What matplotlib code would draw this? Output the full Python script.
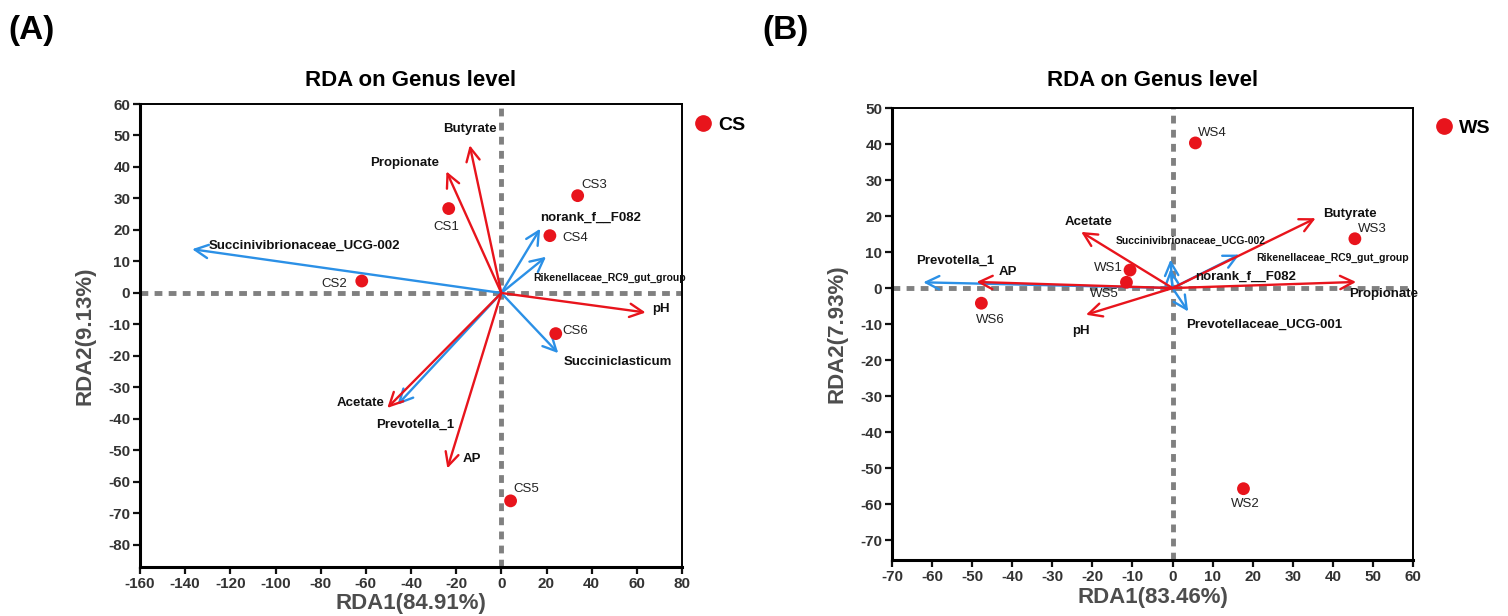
import matplotlib
matplotlib.use('Agg')
import matplotlib.pyplot as plt
from matplotlib.lines import Line2D

plt.rcParams['font.family'] = ['Liberation Sans', 'DejaVu Sans']
plt.rcParams['font.weight'] = 'bold'
plt.rcParams['axes.unicode_minus'] = False

RED = '#e8141c'
BLUE = '#2b90e6'
GREY = '#808080'

# ---- panel A data (CS) ----
cs_names = ['CS1', 'CS2', 'CS3', 'CS4', 'CS5', 'CS6']
cs_x = [-23.3, -61.8, 33.8, 21.5, 4.1, 24.1]
cs_y = [26.8, 3.8, 30.9, 18.2, -66.0, -12.9]

a_env = ['Butyrate', 'Propionate', 'pH', 'Acetate', 'AP']
a_env_x = [-14.0, -24.3, 63.9, -50.5, -23.9]
a_env_y = [46.9, 38.6, -6.2, -36.5, -55.7]

a_gen = ['Succinivibrionaceae_UCG-002', 'norank_f__F082', 'Rikenellaceae_RC9_gut_group',
         'Succiniclasticum', 'Prevotella_1']
a_gen_x = [-136.9, 17.2, 19.8, 25.2, -46.0]
a_gen_y = [13.9, 20.4, 11.5, -19.1, -35.5]

# ---- panel B data (WS) ----
ws_names = ['WS1', 'WS2', 'WS3', 'WS4', 'WS5', 'WS6']
ws_x = [-10.6, 17.7, 45.5, 5.7, -11.5, -47.7]
ws_y = [5.0, -55.7, 13.7, 40.3, 1.6, -4.2]

b_env = ['Acetate', 'Butyrate', 'Propionate', 'AP', 'pH']
b_env_x = [-22.8, 35.7, 45.8, -48.9, -21.6]
b_env_y = [15.6, 19.4, 1.7, 1.7, -7.4]

b_gen = ['Prevotella_1', 'Succinivibrionaceae_UCG-002', 'Rikenellaceae_RC9_gut_group',
         'norank_f__F082', 'Prevotellaceae_UCG-001']
b_gen_x = [-62.2, -0.5, 16.7, -0.5, 3.9]
b_gen_y = [1.6, 7.9, 9.3, 5.3, -6.5]

# label placement: (dx px, dy px, ha[, fontsize])
cs_lab = [(-2, -18, 'center'), (-15, -3, 'right'), (4, 11, 'left'),
          (12, -2, 'left'), (3, 12, 'left'), (7, 3, 'left')]
a_env_lab = [(0, 16, 'center', 9.5), (-42, 8, 'center', 9.5), (7, 4, 'left', 9.5),
             (-3, 5, 'right', 9.5), (15, 9, 'left', 9.5)]
a_gen_lab = [(17, 3, 'left', 9.5), (0, 11, 'left', 9.5), (-13, -21, 'left', 7.5),
             (5, -9, 'left', 9.5), (-21, -20, 'left', 9.5)]
ws_lab = [(-7, 2, 'right'), (2, -15, 'center'), (3, 10, 'left'),
          (3, 10, 'left'), (-22, -12, 'center'), (9, -17, 'center')]
b_env_lab = [(7, 10, 'center', 9.5), (8, 4, 'left', 9.5), (-7, -12, 'left', 9.5),
             (22, 10, 'left', 9.5), (-5, -16, 'center', 9.5)]
b_gen_lab = [(-7, 22, 'left', 9.5), (-55, 19, 'left', 7.5), (17, -3, 'left', 7.5),
             (25, -8, 'left', 9.5), (-2, -13, 'left', 9.5)]


def panel(ax, px, py, pnames, plab, ex, ey, enames, elab, gx, gy, gnames, glab,
          xlim, ylim, xticks, yticks, xlabel, ylabel, group, tpad, legx):
    ax.set_xlim(xlim)
    ax.set_ylim(ylim)
    ax.axhline(0, color=GREY, lw=3.5, ls=(0, (1.6, 1.3)), zorder=1)
    ax.axvline(0, color=GREY, lw=3.5, ls=(0, (1.6, 1.3)), zorder=1)
    for x, y in zip(gx, gy):
        ax.annotate('', xy=(x, y), xytext=(0, 0),
                    arrowprops=dict(arrowstyle='->', color=BLUE, lw=1.7,
                                    mutation_scale=24, shrinkA=0, shrinkB=0), zorder=2)
    for x, y in zip(ex, ey):
        ax.annotate('', xy=(x, y), xytext=(0, 0),
                    arrowprops=dict(arrowstyle='->', color=RED, lw=1.7,
                                    mutation_scale=24, shrinkA=0, shrinkB=0), zorder=3)
    ax.scatter(px, py, s=85, color=RED, zorder=4, edgecolors='none')
    for n, x, y, (dx, dy, ha) in zip(pnames, px, py, plab):
        ax.annotate(n, (x, y), xytext=(dx, dy), textcoords='offset pixels',
                    ha=ha, va='center', fontsize=9.5, fontweight='normal', color='#222')
    for names, xs, ys, labs in ((enames, ex, ey, elab), (gnames, gx, gy, glab)):
        for n, x, y, (dx, dy, ha, fs) in zip(names, xs, ys, labs):
            ax.annotate(n, (x, y), xytext=(dx, dy), textcoords='offset pixels',
                        ha=ha, va='center', fontsize=fs, fontweight='bold', color='#111')
    ax.set_xticks(xticks)
    ax.set_yticks(yticks)
    ax.tick_params(labelsize=11, colors='#111', labelcolor='#333', width=1.6, length=5, pad=2)
    for lab in ax.get_xticklabels() + ax.get_yticklabels():
        lab.set_fontweight('bold')
    for s in ['left', 'bottom']:
        ax.spines[s].set_linewidth(2.2)
    for s in ['top', 'right']:
        ax.spines[s].set_linewidth(1.4)
    ax.set_xlabel(xlabel, fontsize=16, color='#4d4d4d', fontweight='bold', labelpad=2)
    ax.set_ylabel(ylabel, fontsize=16, color='#4d4d4d', fontweight='bold', labelpad=9)
    ax.set_title('RDA on Genus level', fontsize=16, fontweight='bold', pad=tpad)
    h = Line2D([], [], marker='o', ls='none', color=RED, markersize=11)
    ax.legend([h], [group], loc='center left', bbox_to_anchor=(legx, 0.955), frameon=False,
              handlelength=0.8, handletextpad=0.35, borderaxespad=0, borderpad=0,
              prop=dict(weight='bold', size=14))


fig = plt.figure(figsize=(15.08, 6.16), dpi=100)
axA = fig.add_axes([140 / 1508, (616 - 567) / 616, 542 / 1508, (567 - 104) / 616])
axB = fig.add_axes([892 / 1508, (616 - 560) / 616, 521 / 1508, (560 - 108) / 616])

panel(axA, cs_x, cs_y, cs_names, cs_lab, a_env_x, a_env_y, a_env, a_env_lab,
      a_gen_x, a_gen_y, a_gen, a_gen_lab, (-160, 80), (-87, 60),
      range(-160, 81, 20), range(-80, 61, 10), 'RDA1(84.91%)', 'RDA2(9.13%)', 'CS',
      13, 1.025)
panel(axB, ws_x, ws_y, ws_names, ws_lab, b_env_x, b_env_y, b_env, b_env_lab,
      b_gen_x, b_gen_y, b_gen, b_gen_lab, (-70, 60), (-75.5, 50),
      range(-70, 61, 10), range(-70, 51, 10), 'RDA1(83.46%)', 'RDA2(7.93%)', 'WS',
      16, 1.045)

fig.text(8 / 1508, 1 - 30 / 616, '(A)', fontsize=24, fontweight='bold', va='center')
fig.text(762 / 1508, 1 - 30 / 616, '(B)', fontsize=24, fontweight='bold', va='center')

fig.savefig('out.png', dpi=100)
